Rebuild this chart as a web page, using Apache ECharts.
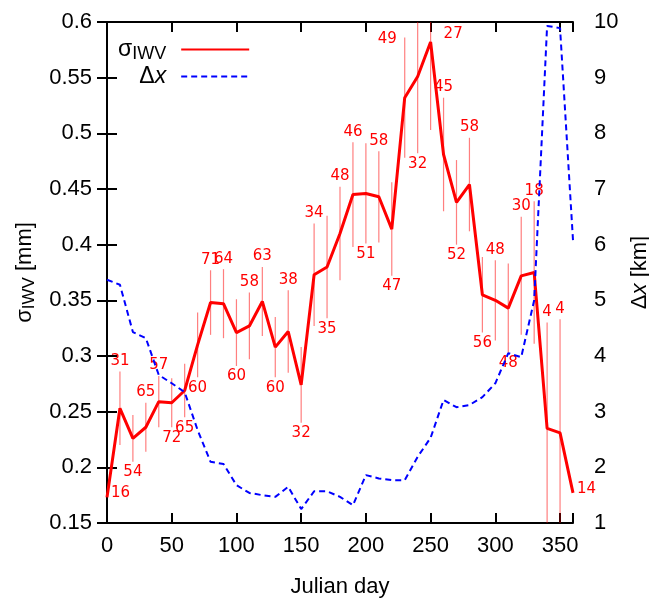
<!DOCTYPE html>
<html>
<head>
<meta charset="utf-8">
<script src="https://cdn.jsdelivr.net/npm/echarts@6/dist/echarts.min.js"></script>
<style>
html,body{margin:0;padding:0;background:#fff;overflow:hidden;}
#chart{width:649px;height:599px;}
</style>
</head>
<body>
<div id="chart"></div>
<script>
// ---- data ----
const days = [0,10,20,30,40,50,60,70,80,90,100,110,120,130,140,150,160,170,180,190,200,210,220,230,240,250,260,270,280,290,300,310,320,330,340,350,360];
const sigmaIWV = [0.173,0.253,0.226,0.236,0.259,0.258,0.269,0.310,0.348,0.347,0.321,0.327,0.349,0.308,0.322,0.274,0.373,0.380,0.410,0.445,0.446,0.443,0.414,0.532,0.551,0.582,0.481,0.438,0.454,0.355,0.350,0.343,0.372,0.375,0.235,0.231,0.177];
const sigmaErr = [0,0.033,0.021,0.022,0.023,0.022,0.024,0.029,0.029,0.031,0.030,0.030,0.031,0.027,0.037,0.034,0.046,0.046,0.042,0.047,0.045,0.041,0.042,0.054,0.069,0.079,0.051,0.038,0.042,0.034,0.036,0.040,0.053,0.064,0.095,0.102,0];
const counts = [16,31,54,65,57,72,65,60,71,64,60,58,63,60,38,32,34,35,48,46,51,58,47,49,32,27,45,52,58,56,48,48,30,18,4,4,14];
const labelSide = ['r','a','b','a','a','b','b','b','a','a','b','a','a','b','a','b','a','b','a','a','b','a','b','l','b','t','a','b','a','b','a','b','a','a','a','a','r'];
const deltaX = [5.37,5.28,4.43,4.32,3.66,3.51,3.35,2.67,2.10,2.06,1.68,1.54,1.50,1.47,1.65,1.25,1.57,1.57,1.47,1.32,1.86,1.80,1.77,1.77,2.19,2.53,3.21,3.08,3.12,3.26,3.51,4.05,3.98,5.00,9.93,9.89,6.08];
const xTicks = {min:0, max:360, interval:50};
const yLeftTicks = {min:0.15, max:0.6, interval:0.05};
const yRightTicks = {min:1, max:10, interval:1};

const FONT = 'Liberation Sans, Arial, sans-serif';
const LFONT = 'DejaVu Sans, sans-serif';
const chart = echarts.init(document.getElementById('chart'), null, {renderer:'canvas', width:649, height:599});

const axisLineStyle = {show:true, lineStyle:{color:'#000', width:2}};
const tickStyle = {show:true, inside:true, length:10, lineStyle:{color:'#000', width:2}};

const option = {
  animation:false,
  backgroundColor:'#fff',
  grid:{left:107, right:76, top:22, bottom:76, containLabel:false, outerBoundsMode:'none'},
  legend:{
    left:113, top:33, orient:'vertical', align:'right',
    itemWidth:68, itemHeight:14, itemGap:2,
    itemStyle:{opacity:0},
    data:['sigma','dx'],
    formatter:function(n){ return n==='sigma' ? '{g|σ}{s|IWV}{e|}' : '{g|Δ}{i|x}{e|}'; },
    textStyle:{color:'#000', fontFamily:FONT, fontSize:22,
      rich:{
        g:{fontSize:23, fontFamily:FONT, color:'#000'},
        s:{fontSize:18, fontFamily:FONT, color:'#000', verticalAlign:'bottom', padding:[9,0,0,0]},
        i:{fontSize:23, fontFamily:FONT, fontStyle:'italic', color:'#000'},
        e:{width:10}
      }}
  },
  xAxis:[
    {type:'value', min:xTicks.min, max:xTicks.max, interval:xTicks.interval, position:'bottom',
     name:'Julian day', nameLocation:'middle', nameGap:53,
     nameTextStyle:{fontFamily:FONT, fontSize:22, color:'#000'},
     axisLine:axisLineStyle, axisTick:tickStyle, splitLine:{show:false},
     axisLabel:{fontFamily:FONT, fontSize:22, color:'#000', margin:12,
       formatter:function(v){ return v===360 ? '' : String(v); }}},
    {type:'value', min:xTicks.min, max:xTicks.max, interval:xTicks.interval, position:'top',
     axisLine:axisLineStyle, axisTick:tickStyle, splitLine:{show:false}, axisLabel:{show:false}}
  ],
  yAxis:[
    {type:'value', min:yLeftTicks.min, max:yLeftTicks.max, interval:yLeftTicks.interval, position:'left',
     name:'{g|σ}{s|IWV}{g| [mm]}', nameLocation:'middle', nameGap:65,
     nameTextStyle:{fontFamily:FONT, fontSize:22, color:'#000',
       rich:{g:{fontSize:22, fontFamily:FONT, color:'#000'},
             s:{fontSize:17, fontFamily:FONT, color:'#000', verticalAlign:'bottom', padding:[9,0,0,0]}}},
     axisLine:axisLineStyle, axisTick:tickStyle, splitLine:{show:false},
     axisLabel:{fontFamily:FONT, fontSize:22, color:'#000', margin:15,
       formatter:function(v){ return String(parseFloat(v.toFixed(2))); }}},
    {type:'value', min:yRightTicks.min, max:yRightTicks.max, interval:yRightTicks.interval, position:'right',
     name:'{g|Δ}{i|x}{g| [km]}', nameLocation:'middle', nameGap:52, nameRotate:90,
     nameTextStyle:{fontFamily:FONT, fontSize:22, color:'#000',
       rich:{g:{fontSize:22, fontFamily:FONT, color:'#000'},
             i:{fontSize:22, fontFamily:FONT, fontStyle:'italic', color:'#000'}}},
     axisLine:axisLineStyle, axisTick:tickStyle, splitLine:{show:false},
     axisLabel:{fontFamily:FONT, fontSize:22, color:'#000', margin:21}}
  ],
  series:[
    {
      name:'errbars', type:'custom', xAxisIndex:0, yAxisIndex:0, z:1, silent:true,
      data: days.map(function(d,i){ return [d, sigmaIWV[i], sigmaErr[i], counts[i], i]; }),
      renderItem:function(params, api){
        const cs = params.coordSys;
        const x = api.value(0), v = api.value(1), e = api.value(2), n = api.value(3), idx = api.value(4);
        const p = api.coord([x, v]);
        const t = api.coord([x, v+e]);
        const b = api.coord([x, v-e]);
        const top = Math.max(t[1], cs.y), bot = Math.min(b[1], cs.y+cs.height);
        const children = [];
        if (e > 0) children.push({type:'line', shape:{x1:p[0], y1:top, x2:p[0], y2:bot},
          style:{stroke:'rgba(255,0,0,0.5)', lineWidth:1.2}});
        const side = labelSide[idx];
        let tx = p[0], ty, al = 'center', va = 'middle';
        if (side==='a'){ ty = t[1]-3; va='bottom'; }
        else if (side==='b'){ ty = b[1]+3; va='top'; }
        else if (side==='r'){ tx = p[0]+4; ty = p[1]-4; al='left'; }
        else if (side==='l'){ tx = p[0]-8; ty = t[1]+2; al='right'; }
        else { tx = p[0]+13; ty = cs.y+12; al='left'; }
        children.push({type:'text', style:{text:String(n), x:tx, y:ty, fill:'#ff0000',
          font:'15px '+LFONT, align:al, verticalAlign:va}});
        return {type:'group', children:children};
      }
    },
    {
      name:'sigma', type:'line', xAxisIndex:0, yAxisIndex:0, z:3,
      data: days.map(function(d,i){ return [d, sigmaIWV[i]]; }),
      symbol:'none', lineStyle:{color:'#ff0000', width:3}, itemStyle:{color:'#ff0000'}
    },
    {
      name:'dx', type:'line', xAxisIndex:0, yAxisIndex:1, z:4,
      data: days.map(function(d,i){ return [d, deltaX[i]]; }),
      symbol:'none', lineStyle:{color:'#0000ff', width:2, type:[6,4]}, itemStyle:{color:'#0000ff'}
    }
  ]
};
chart.setOption(option);
</script>
</body>
</html>
